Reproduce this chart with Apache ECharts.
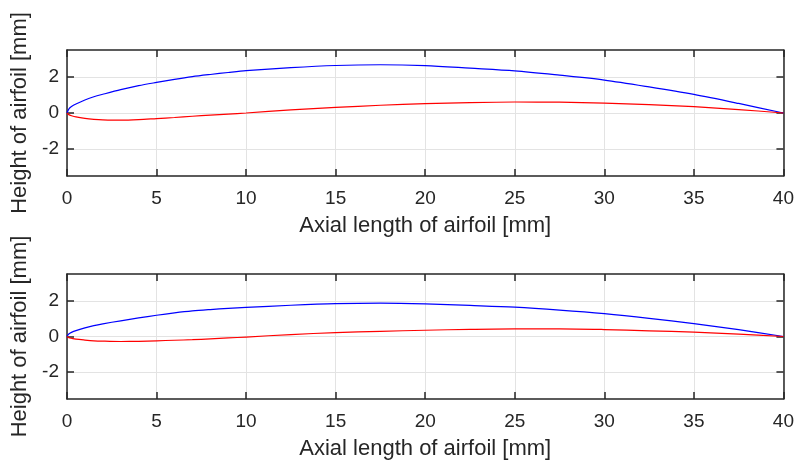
<!DOCTYPE html>
<html>
<head>
<meta charset="utf-8">
<script src="https://cdn.jsdelivr.net/npm/echarts@6/dist/echarts.min.js"></script>
<style>
html,body{margin:0;padding:0;background:#fff;}
#chart{width:797px;height:461px;}
</style>
</head>
<body>
<div id="chart"></div>
<script>
// ---- data ----
var xPos = [0, 0.1, 0.25, 0.5, 1, 1.5, 2, 3, 4, 5, 6, 7, 8, 9, 10, 12.5, 15, 17.5, 20, 22.5, 25, 27.5, 30, 32.5, 35, 37.5, 40];
var upperTop = [0, 0.22, 0.36, 0.5, 0.72, 0.9, 1.04, 1.3, 1.52, 1.70, 1.87, 2.02, 2.14, 2.25, 2.35, 2.52, 2.64, 2.68, 2.63, 2.49, 2.34, 2.1, 1.83, 1.45, 1.03, 0.53, 0];
var lowerTop = [0, -0.09, -0.15, -0.22, -0.30, -0.35, -0.38, -0.40, -0.37, -0.31, -0.25, -0.18, -0.12, -0.06, 0.0, 0.17, 0.31, 0.43, 0.52, 0.58, 0.61, 0.60, 0.55, 0.46, 0.35, 0.19, 0];
var upperBottom = [0, 0.14, 0.23, 0.33, 0.48, 0.61, 0.71, 0.88, 1.04, 1.19, 1.32, 1.43, 1.51, 1.58, 1.63, 1.75, 1.84, 1.87, 1.83, 1.74, 1.64, 1.48, 1.28, 1.02, 0.72, 0.38, 0];
var lowerBottom = [0, -0.06, -0.1, -0.15, -0.2, -0.24, -0.26, -0.28, -0.27, -0.24, -0.21, -0.18, -0.13, -0.08, -0.03, 0.11, 0.22, 0.29, 0.35, 0.40, 0.43, 0.43, 0.39, 0.32, 0.24, 0.13, 0];
var yTicks = [-2, 0, 2];
var xName = 'Axial length of airfoil [mm]';
var yName = 'Height of airfoil [mm]';

function pairs(xs, ys){ return xs.map(function(x,i){ return [x, ys[i]]; }); }

var txt = '#262626';
var font = 'Liberation Sans, Arial, Helvetica, sans-serif';
var gridColor = '#e3e3e3';

function xAx(gi, bottom){
  return {
    type:'value', gridIndex: gi, min:0, max:40, interval:5,
    position: bottom ? 'bottom' : 'top',
    name: bottom ? xName : '', nameLocation:'middle', nameGap:39,
    nameTextStyle:{color:txt, fontSize:22, fontFamily:font},
    axisLine:{onZero:false, lineStyle:{color:txt, width:1.5}},
    axisTick:{show:true, inside:true, length:7, lineStyle:{color:txt, width:1.5}},
    axisLabel:{show: bottom, color:txt, fontSize:19, fontFamily:font, margin:13},
    splitLine:{show: bottom, lineStyle:{color:gridColor, width:1}}
  };
}
function yAx(gi, left){
  return {
    type:'value', gridIndex: gi, min:-3.5, max:3.5,
    position: left ? 'left' : 'right',
    name: left ? yName : '', nameLocation:'middle', nameGap:33, nameRotate:90,
    nameTextStyle:{color:txt, fontSize:22, fontFamily:font},
    axisLine:{onZero:false, lineStyle:{color:txt, width:1.5}},
    axisTick:{show:true, inside:true, length:7, customValues: yTicks, lineStyle:{color:txt, width:1.5}},
    axisLabel:{show: left, color:txt, fontSize:19, fontFamily:font, margin:8, customValues: yTicks},
    splitLine:{show: left, lineStyle:{color:gridColor, width:1}}
  };
}
function line(xi, yi, data, color){
  return {type:'line', xAxisIndex:xi, yAxisIndex:yi, data:data, smooth:0.3, showSymbol:false,
    symbol:'none', lineStyle:{color:color, width:1.2}, itemStyle:{color:color}, animation:false, z:5};
}

var chart = echarts.init(document.getElementById('chart'), null, {renderer:'canvas'});
chart.setOption({
  animation:false,
  backgroundColor:'#fff',
  grid:[
    {left:67, right:12, top:50, height:126},
    {left:67, right:12, top:274, height:125}
  ],
  xAxis:[xAx(0,true), xAx(0,false), xAx(1,true), xAx(1,false)],
  yAxis:[yAx(0,true), yAx(0,false), yAx(1,true), yAx(1,false)],
  series:[
    line(0,0,pairs(xPos, upperTop),'#0000ff'),
    line(0,0,pairs(xPos, lowerTop),'#ff0000'),
    line(2,2,pairs(xPos, upperBottom),'#0000ff'),
    line(2,2,pairs(xPos, lowerBottom),'#ff0000')
  ]
});
</script>
</body>
</html>
